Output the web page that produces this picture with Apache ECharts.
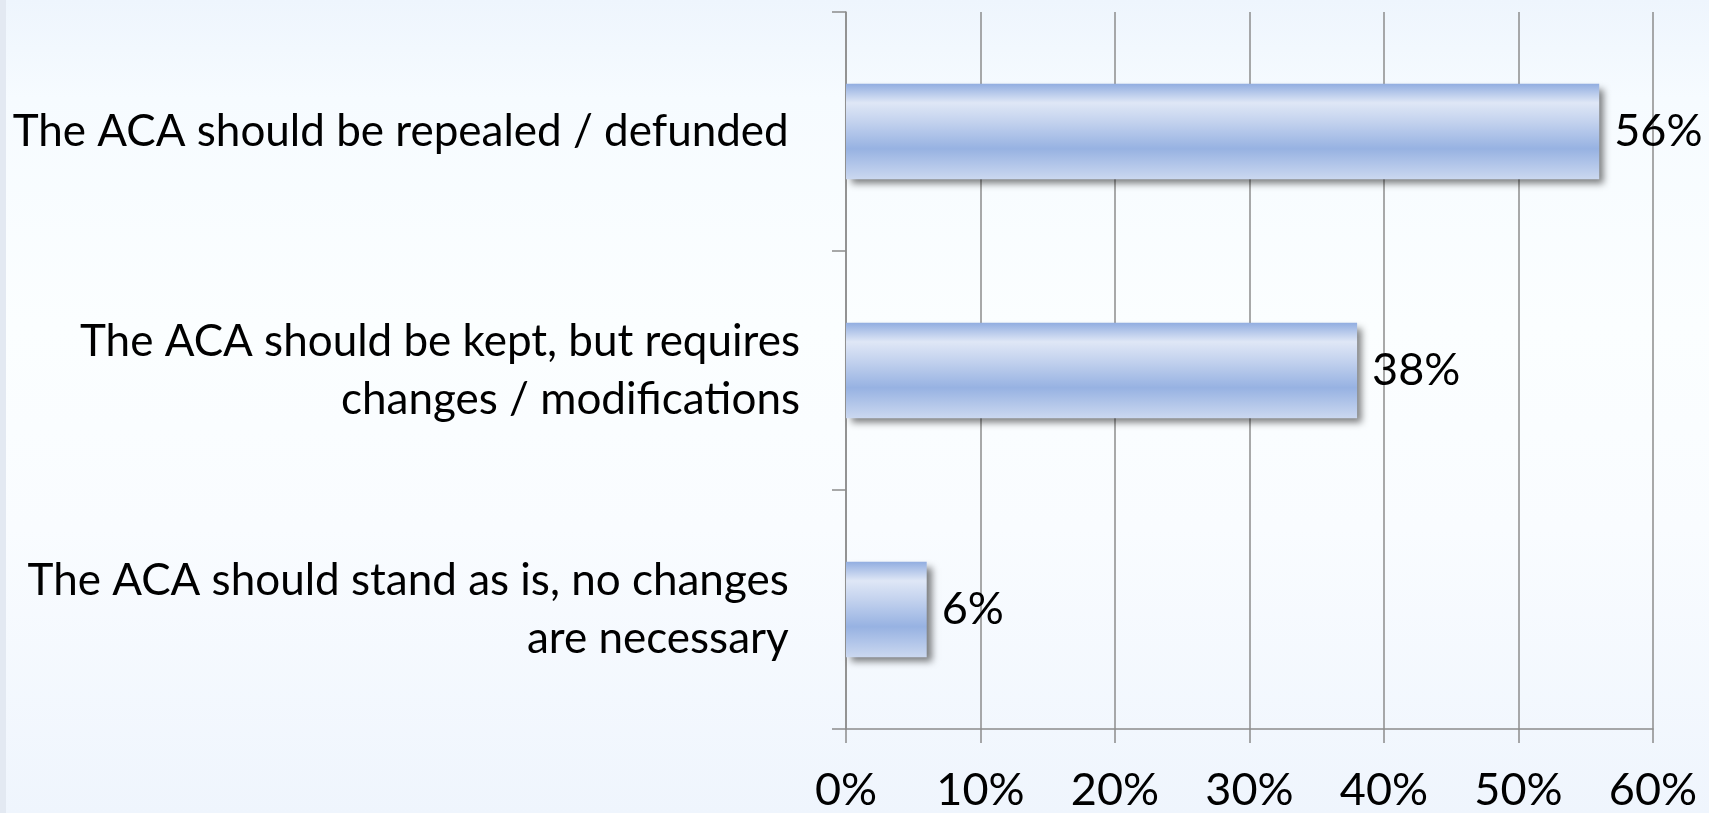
<!DOCTYPE html>
<html>
<head>
<meta charset="utf-8">
<script src="https://cdn.jsdelivr.net/npm/echarts@6/dist/echarts.min.js"></script>
<style>
  html, body { margin: 0; padding: 0; width: 1709px; height: 813px; overflow: hidden; }
  body { background: linear-gradient(to bottom, #eef5fd 0%, #f6fbff 12%, #fbfeff 40%, #f9fcff 65%, #eff5fd 100%); }
  #chart { width: 1709px; height: 813px; }
</style>
</head>
<body>
<div id="chart"></div>
<script>
const categories = [
  'The ACA should be repealed / defunded ',
  'The ACA should be kept, but requires\nchanges / modifications',
  'The ACA should stand as is, no changes \nare necessary '
];
const values = [56, 38, 6];
const xTicks = { min: 0, max: 60, interval: 10 };

const FONT = 'Lato';
const chart = echarts.init(document.getElementById('chart'), null, { renderer: 'canvas' });
chart.setOption({
  backgroundColor: 'transparent',
  animation: false,
  graphic: [{
    type: 'rect', left: 0, top: 0, shape: { width: 6, height: 813 },
    style: { fill: '#e3e9f2' }, silent: true
  }],
  grid: { left: 846, right: 56, top: 12, bottom: 80, containLabel: false },
  xAxis: {
    type: 'value', min: xTicks.min, max: xTicks.max, interval: xTicks.interval,
    axisLine: { show: true, lineStyle: { color: '#8c8c8c', width: 1.5 } },
    axisTick: { show: true, length: 14, lineStyle: { color: '#8c8c8c', width: 1.5 } },
    splitLine: { show: true, lineStyle: { color: '#8c8c8c', width: 1.5 } },
    axisLabel: {
      formatter: v => v + '%', color: '#000', fontFamily: FONT, fontSize: 45, margin: 39
    }
  },
  yAxis: {
    type: 'category', data: categories, inverse: true,
    axisLine: { show: true, lineStyle: { color: '#8c8c8c', width: 1.5 } },
    axisTick: { show: true, length: 14, alignWithLabel: false, lineStyle: { color: '#8c8c8c', width: 1.5 } },
    axisLabel: {
      color: '#000', fontFamily: FONT, fontSize: 44, lineHeight: 58, margin: 46, align: 'right'
    }
  },
  series: [{
    type: 'bar', data: values, barCategoryGap: '60%',
    itemStyle: {
      color: new echarts.graphic.LinearGradient(0, 0, 0, 1, [
        { offset: 0, color: '#91ade0' },
        { offset: 0.2, color: '#dfe7f6' },
        { offset: 0.4, color: '#c3d2ee' },
        { offset: 0.68, color: '#97b2e2' },
        { offset: 1, color: '#cbd8f0' }
      ]),
      shadowColor: 'rgba(0,0,0,0.5)', shadowBlur: 7, shadowOffsetX: 5, shadowOffsetY: 5
    },
    label: {
      show: true, position: 'right', distance: 15, formatter: p => p.value + '%',
      color: '#000', fontFamily: FONT, fontSize: 45
    }
  }]
});
</script>
</body>
</html>
